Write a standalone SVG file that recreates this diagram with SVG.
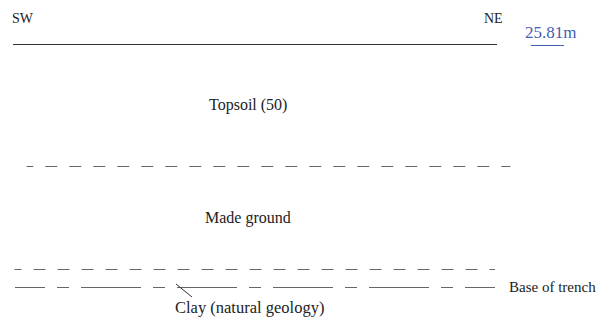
<svg xmlns="http://www.w3.org/2000/svg" width="611" height="322" viewBox="0 0 611 322">
<style>
.t{font-family:'Liberation Serif','Times New Roman',serif;fill:#222}
.ln{stroke:#666;stroke-width:1;fill:none}
</style>
<rect width="611" height="322" fill="#fff"/>
<g id="section">
<line x1="13" y1="44.5" x2="497" y2="44.5" stroke="#333" stroke-width="1"/>
<line class="ln" x1="26.6" y1="166.5" x2="510.4" y2="166.5" stroke-dasharray="12 12" stroke-dashoffset="5.3"/>
<line class="ln" x1="14.5" y1="269.5" x2="495" y2="269.5" stroke-dasharray="12 12" stroke-dashoffset="5"/>
<line class="ln" x1="15" y1="287.5" x2="495" y2="287.5" stroke-dasharray="60 12 12 12" stroke-dashoffset="30"/>
<line x1="176" y1="284" x2="192" y2="297" stroke="#333" stroke-width="1"/>
<line x1="531" y1="45.5" x2="564" y2="45.5" stroke="#3f5fb0" stroke-width="1"/>
</g>
<g id="labels" font-family="Liberation Serif, Times New Roman, serif">
<text class="t" x="12" y="23" font-size="14">SW</text>
<text class="t" x="484" y="23" font-size="14">NE</text>
<text class="t" x="525" y="37.5" font-size="17" style="fill:#3f5fb0">25.81m</text>
<text class="t" x="209" y="110" font-size="16">Topsoil (50)</text>
<text class="t" x="205" y="223" font-size="16">Made ground</text>
<text class="t" x="509" y="292" font-size="15">Base of trench</text>
<text class="t" x="175" y="313" font-size="16.5">Clay (natural geology)</text>
</g>
</svg>
